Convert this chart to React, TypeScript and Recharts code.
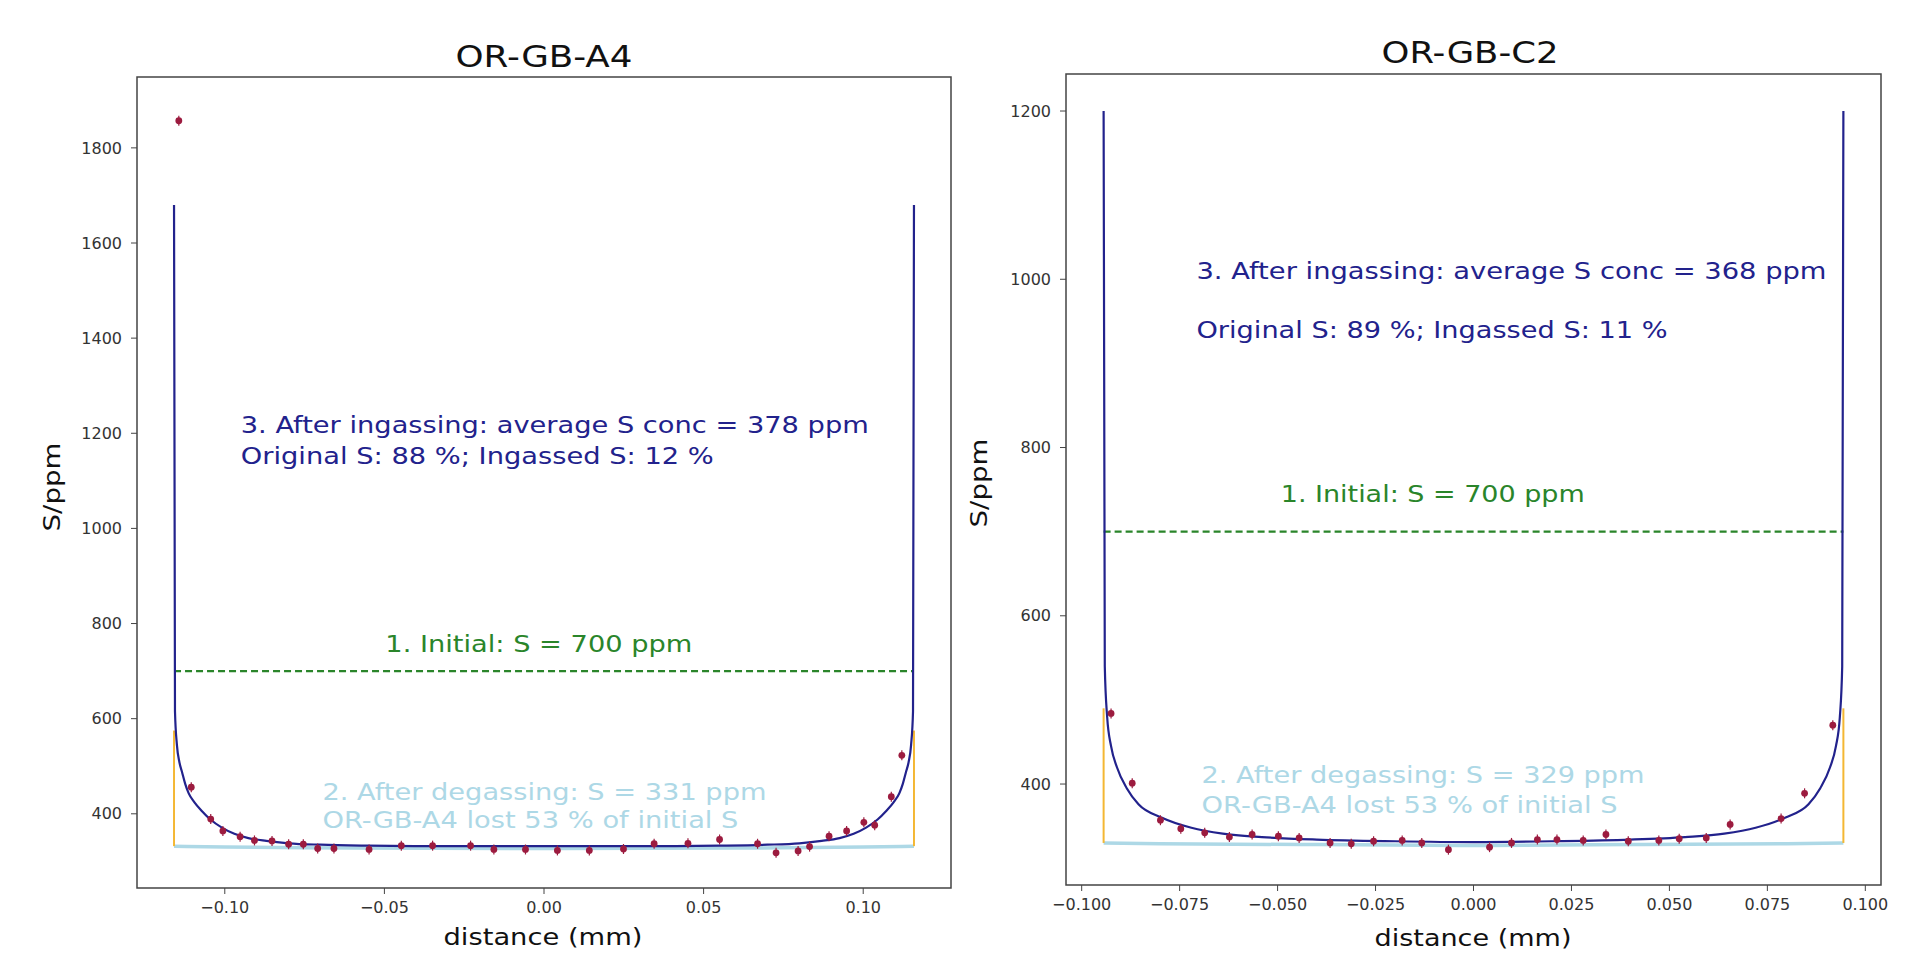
import React from 'react';
import { ComposedChart, Line, Scatter, XAxis, YAxis, ReferenceArea, ReferenceDot } from 'recharts';

// ---- OR-GB-A4 (left panel) ----
const a4Dist = [-0.1144, -0.1105, -0.1044, -0.1006, -0.0952, -0.0907, -0.0852, -0.08, -0.0754, -0.0709, -0.0658, -0.0548, -0.0447, -0.0349, -0.023, -0.0157, -0.0058, 0.0042, 0.0142, 0.0249, 0.0345, 0.0451, 0.055, 0.0669, 0.0727, 0.0796, 0.0832, 0.0893, 0.0948, 0.1002, 0.1036, 0.1088, 0.1121];
const a4Conc = [1857, 456, 389, 364, 352, 344, 343, 336, 336, 327, 327, 325, 333, 333, 333, 325, 325, 323, 323, 326, 337, 338, 346, 337, 318, 322, 331, 353, 364, 382, 376, 436, 523];
const a4ModelDist = [-0.1159, -0.1156, -0.115, -0.1142, -0.1134, -0.1124, -0.1113, -0.1095, -0.1072, -0.1045, -0.1009, -0.097, -0.0926, -0.087, -0.08, -0.07, -0.055, -0.035, 0, 0.035, 0.055, 0.07, 0.08, 0.087, 0.0926, 0.097, 0.1009, 0.1045, 0.1072, 0.1095, 0.1113, 0.1124, 0.1134, 0.1142, 0.115, 0.1156, 0.1159];
const a4ModelConc = [1680, 615, 545, 508, 488, 463, 443, 424, 406, 388, 371, 358, 349, 343, 338, 335, 333, 332, 332, 332, 333, 335, 338, 343, 349, 358, 371, 388, 406, 424, 443, 463, 488, 508, 545, 615, 1680];
const a4DegasDist = [-0.1159, -0.1, -0.06, 0, 0.06, 0.1, 0.1159];
const a4DegasConc = [332, 330, 328, 327, 328, 330, 332];
const a4Rim = [-0.1159, 0.1159];
const a4RimConc = [332, 575];
const a4XTicks = [-0.1, -0.05, 0, 0.05, 0.1];
const a4YTicks = [400, 600, 800, 1000, 1200, 1400, 1600, 1800];

// ---- OR-GB-C2 (right panel) ----
const c2Dist = [-0.0925, -0.0871, -0.0799, -0.0747, -0.0686, -0.0623, -0.0565, -0.0498, -0.0445, -0.0366, -0.0312, -0.0255, -0.0182, -0.0132, -0.0064, 0.0041, 0.0097, 0.0163, 0.0213, 0.028, 0.0338, 0.0395, 0.0473, 0.0525, 0.0594, 0.0655, 0.0785, 0.0845, 0.0917];
const c2Conc = [484, 401, 357, 347, 342, 337, 340, 338, 336, 330, 329, 332, 333, 330, 322, 325, 330, 334, 334, 333, 340, 332, 333, 335, 336, 352, 359, 389, 470];
const c2ModelDist = [-0.0944, -0.0941, -0.0935, -0.0925, -0.091, -0.0885, -0.0855, -0.0795, -0.072, -0.064, -0.054, -0.04, -0.02, 0, 0.02, 0.04, 0.054, 0.064, 0.072, 0.0795, 0.0855, 0.0885, 0.091, 0.0925, 0.0935, 0.0941, 0.0944];
const c2ModelConc = [1200, 540, 480, 445, 420, 395, 376, 360, 348, 341, 337, 334, 332, 331, 332, 334, 337, 341, 348, 360, 376, 395, 420, 445, 480, 540, 1200];
const c2DegasDist = [-0.0944, -0.08, -0.04, 0, 0.04, 0.08, 0.0944];
const c2DegasConc = [330, 329, 328, 327, 328, 329, 330];
const c2Rim = [-0.0944, 0.0944];
const c2RimConc = [330, 490];
const c2XTicks = [-0.1, -0.075, -0.05, -0.025, 0, 0.025, 0.05, 0.075, 0.1];
const c2YTicks = [400, 600, 800, 1000, 1200];

const INITIAL = 700;

const NAVY = '#22228c';
const RED = '#9c1b3f';
const GREEN = '#2a852a';
const LIGHTBLUE = '#add8e6';
const ORANGE = '#f4b733';
const FONT = 'DejaVu Sans';

const toPts = (xs: number[], ys: number[]) => xs.map((x, i) => ({ x, y: ys[i] }));

const fmt = (digits: number) => (v: number) => (v < 0 ? '\u2212' : '') + Math.abs(v).toFixed(digits);

const marker = (p: any) => (
  <g>
    <line x1={p.cx} x2={p.cx} y1={p.cy - 5} y2={p.cy + 5} stroke={RED} strokeWidth={1.2} />
    <circle cx={p.cx} cy={p.cy} r={3.4} fill={RED} />
  </g>
);

const note = (n: any, key: number) => (
  <ReferenceDot
    key={key}
    x={n.x}
    y={n.y}
    r={0}
    ifOverflow="visible"
    shape={(p: any) => (
      <text x={p.cx} y={p.cy} fill={n.color} fontSize={23} fontFamily={FONT} textLength={n.len} lengthAdjust="spacingAndGlyphs">
        {n.text}
      </text>
    )}
  />
);

function Panel({ cfg }: { cfg: any }) {
  const tick = { fontSize: 16, fill: '#333', fontFamily: FONT };
  return (
    <ComposedChart width={cfg.width} height={955} margin={cfg.margin}>
      <XAxis
        type="number"
        dataKey="x"
        domain={cfg.xDomain}
        ticks={cfg.xTicks}
        interval={0}
        allowDataOverflow
        tickFormatter={fmt(cfg.digits)}
        axisLine={false}
        tickLine={{ stroke: '#444' }}
        tickSize={6}
        tickMargin={8}
        tick={tick}
        height={60}
      />
      <YAxis
        type="number"
        dataKey="y"
        domain={cfg.yDomain}
        ticks={cfg.yTicks}
        interval={0}
        allowDataOverflow
        axisLine={false}
        tickLine={{ stroke: '#444' }}
        tickSize={6}
        tickMargin={9}
        tick={tick}
        width={60}
      />
      <ReferenceArea
        x1={cfg.xDomain[0]}
        x2={cfg.xDomain[1]}
        y1={cfg.yDomain[0]}
        y2={cfg.yDomain[1]}
        fill="none"
        stroke="#444"
        strokeWidth={1.5}
        ifOverflow="visible"
      />
      <Line data={toPts(cfg.degasDist, cfg.degasConc)} dataKey="y" type="monotone" stroke={LIGHTBLUE} strokeWidth={3.5} dot={false} isAnimationActive={false} />
      <Line data={toPts([cfg.rim[0], cfg.rim[0]], cfg.rimConc)} dataKey="y" type="linear" stroke={ORANGE} strokeWidth={2} dot={false} isAnimationActive={false} />
      <Line data={toPts([cfg.rim[1], cfg.rim[1]], cfg.rimConc)} dataKey="y" type="linear" stroke={ORANGE} strokeWidth={2} dot={false} isAnimationActive={false} />
      <Line data={toPts(cfg.rim, [INITIAL, INITIAL])} dataKey="y" type="linear" stroke={GREEN} strokeWidth={2.2} strokeDasharray="7 4" dot={false} isAnimationActive={false} />
      <Line data={toPts(cfg.modelDist, cfg.modelConc)} dataKey="y" type="monotone" stroke={NAVY} strokeWidth={2.2} dot={false} isAnimationActive={false} />
      <Scatter data={toPts(cfg.dist, cfg.conc)} dataKey="y" shape={marker} isAnimationActive={false} />
      {cfg.notes.map(note)}
    </ComposedChart>
  );
}

const leftCfg = {
  width: 960,
  margin: { top: 77, right: 9, bottom: 7, left: 77 },
  xDomain: [-0.1275, 0.1275],
  yDomain: [244, 1949],
  xTicks: a4XTicks,
  yTicks: a4YTicks,
  digits: 2,
  dist: a4Dist,
  conc: a4Conc,
  modelDist: a4ModelDist,
  modelConc: a4ModelConc,
  degasDist: a4DegasDist,
  degasConc: a4DegasConc,
  rim: a4Rim,
  rimConc: a4RimConc,
  notes: [
    { x: -0.095, y: 1200, text: '3. After ingassing: average S conc = 378 ppm', color: NAVY, len: 628 },
    { x: -0.095, y: 1135, text: 'Original S: 88 %; Ingassed S: 12 %', color: NAVY, len: 473 },
    { x: -0.0497, y: 740, text: '1. Initial: S = 700 ppm', color: GREEN, len: 307 },
    { x: -0.0694, y: 429, text: '2. After degassing: S = 331 ppm', color: LIGHTBLUE, len: 444 },
    { x: -0.0694, y: 371, text: 'OR-GB-A4 lost 53 % of initial S', color: LIGHTBLUE, len: 416 },
  ],
};

const rightCfg = {
  width: 953,
  margin: { top: 74, right: 32, bottom: 10, left: 46 },
  xDomain: [-0.104, 0.104],
  yDomain: [280, 1244],
  xTicks: c2XTicks,
  yTicks: c2YTicks,
  digits: 3,
  dist: c2Dist,
  conc: c2Conc,
  modelDist: c2ModelDist,
  modelConc: c2ModelConc,
  degasDist: c2DegasDist,
  degasConc: c2DegasConc,
  rim: c2Rim,
  rimConc: c2RimConc,
  notes: [
    { x: -0.0707, y: 1000, text: '3. After ingassing: average S conc = 368 ppm', color: NAVY, len: 630 },
    { x: -0.0707, y: 930, text: 'Original S: 89 %; Ingassed S: 11 %', color: NAVY, len: 471 },
    { x: -0.0492, y: 735, text: '1. Initial: S = 700 ppm', color: GREEN, len: 304 },
    { x: -0.0694, y: 401, text: '2. After degassing: S = 329 ppm', color: LIGHTBLUE, len: 443 },
    { x: -0.0694, y: 366, text: 'OR-GB-A4 lost 53 % of initial S', color: LIGHTBLUE, len: 416 },
  ],
};

export default function App() {
  const label = { fontFamily: FONT, fill: '#111' };
  return (
    <div style={{ position: 'fixed', left: 0, top: 0, width: 1913, height: 955, background: '#fff' }}>
      <div style={{ position: 'absolute', left: 0, top: 0 }}>
        <Panel cfg={leftCfg} />
      </div>
      <div style={{ position: 'absolute', left: 960, top: 0 }}>
        <Panel cfg={rightCfg} />
      </div>
      {/* titles and axis labels */}
      <svg width={1913} height={955} style={{ position: 'absolute', left: 0, top: 0, pointerEvents: 'none' }}>
        <text x={544} y={67} textAnchor="middle" fontSize={31} textLength={177} lengthAdjust="spacingAndGlyphs" {...label}>OR-GB-A4</text>
        <text x={1470} y={63} textAnchor="middle" fontSize={31} textLength={177} lengthAdjust="spacingAndGlyphs" {...label}>OR-GB-C2</text>
        <text x={543} y={945} textAnchor="middle" fontSize={23} textLength={199} lengthAdjust="spacingAndGlyphs" {...label}>distance (mm)</text>
        <text x={1473} y={946} textAnchor="middle" fontSize={23} textLength={197} lengthAdjust="spacingAndGlyphs" {...label}>distance (mm)</text>
        <text transform="translate(60,487) rotate(-90)" textAnchor="middle" fontSize={23} textLength={89} lengthAdjust="spacingAndGlyphs" {...label}>S/ppm</text>
        <text transform="translate(987,483) rotate(-90)" textAnchor="middle" fontSize={23} textLength={89} lengthAdjust="spacingAndGlyphs" {...label}>S/ppm</text>
      </svg>
    </div>
  );
}
